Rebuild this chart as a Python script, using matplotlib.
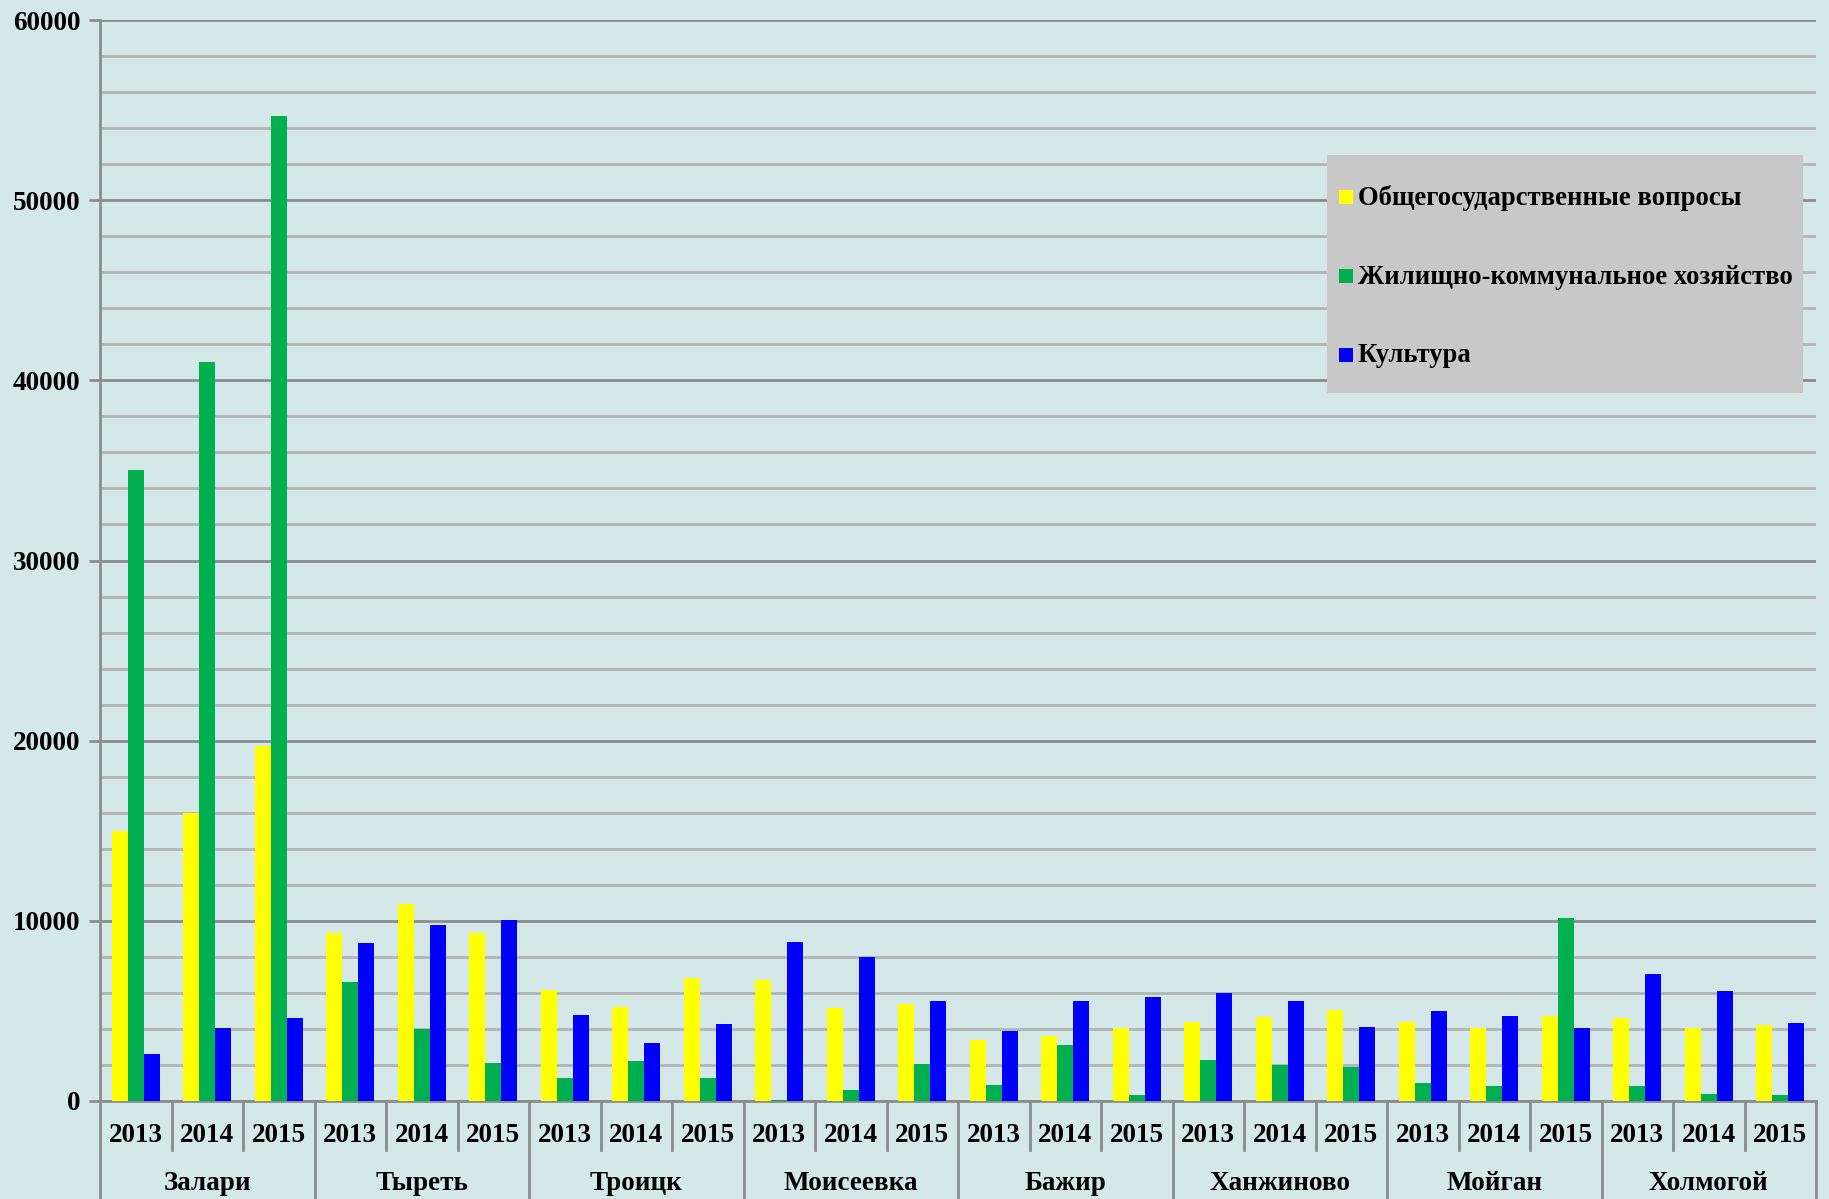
import matplotlib
matplotlib.use("Agg")
import matplotlib.pyplot as plt
import numpy as np
from matplotlib.patches import Rectangle
from matplotlib.lines import Line2D

plt.rcParams['font.family'] = ['Liberation Serif', 'DejaVu Serif']
plt.rcParams['font.weight'] = 'bold'

villages = ["Залари", "Тыреть", "Троицк", "Моисеевка", "Бажир", "Ханжиново", "Мойган", "Холмогой"]
years = ["2013", "2014", "2015"]
series_names = ["Общегосударственные вопросы", "Жилищно-коммунальное хозяйство", "Культура"]

general = [15000, 16000, 19700,
           9330, 10960, 9310,
           6150, 5200, 6850,
           6740, 5150, 5390,
           3370, 3590, 4070,
           4390, 4670, 5070,
           4390, 4070, 4700,
           4630, 4060, 4220]
housing = [35000, 41000, 54650,
           6590, 4000, 2110,
           1260, 2200, 1300,
           50, 630, 2060,
           910, 3130, 310,
           2300, 2000, 1870,
           980, 850, 10150,
           850, 370, 350]
culture = [2600, 4070, 4600,
           8780, 9780, 10020,
           4760, 3240, 4260,
           8810, 7980, 5560,
           3870, 5570, 5800,
           6000, 5540, 4130,
           5020, 4740, 4040,
           7070, 6130, 4310]

colors = ["#FFFF00", "#00B050", "#0000FF"]
bg = "#D5E8E8"
W, H = 1829, 1199

fig = plt.figure(figsize=(W/100, H/100), dpi=100)
fig.patch.set_facecolor(bg)
ax = fig.add_axes([100/W, 1 - 1101/H, (1816-100)/W, (1101-20)/H])
ax.set_facecolor(bg)

n = len(villages) * len(years)
x = np.arange(n)
w = 1/4.5
for k, (vals, c) in enumerate(zip([general, housing, culture], colors)):
    ax.bar(x + (k-1)*w, vals, width=w, color=c, zorder=3, label=series_names[k])

ax.set_xlim(-0.5, n - 0.5)
ax.set_ylim(0, 60000)
ax.set_yticks(np.arange(0, 60001, 10000))
ax.set_yticks(np.arange(0, 60001, 2000), minor=True)
ax.set_yticklabels([str(v) for v in range(0, 60001, 10000)], fontsize=19.5, fontweight='bold')
ax.grid(axis='y', which='minor', color='#B4B4B4', linewidth=2, zorder=1)
ax.grid(axis='y', which='major', color='#8C8C8C', linewidth=2, zorder=1)
ax.tick_params(axis='y', which='major', length=8, width=2, color='#8C8C8C', pad=6)
ax.tick_params(axis='y', which='minor', length=0)

ax.set_xticks(x)
ax.set_xticklabels(years * len(villages), fontsize=19.5, fontweight='bold')
ax.tick_params(axis='x', length=0, pad=16)

for s in ['top', 'right']:
    ax.spines[s].set_visible(False)
for s in ['left', 'bottom']:
    ax.spines[s].set_color('#8C8C8C')
    ax.spines[s].set_linewidth(2)

trans = ax.get_xaxis_transform()
year_bottom = -(1150-1101)/1081
fig_bottom = -(1199-1101)/1081
for i in range(n + 1):
    xs = i - 0.5
    yb = fig_bottom if i % 3 == 0 else year_bottom
    ax.add_line(Line2D([xs, xs], [0, yb], transform=trans, color='#8C8C8C',
                       linewidth=2, clip_on=False))

for j, v in enumerate(villages):
    ax.text(3*j + 1, -(1183-1101)/1081, v, transform=trans, ha='center', va='center',
            fontsize=19.5, fontweight='bold')

# legend panel (figure pixel layout)
def fx(px):
    return px / W

def fy(py):
    return 1 - py / H

fig.patches.append(Rectangle((fx(1327), fy(393)), fx(1803) - fx(1327), fy(155) - fy(393),
                             transform=fig.transFigure, facecolor='#C8C8C8', edgecolor='none',
                             zorder=10))
entry_y = [198, 277, 356]
for name, c, yy in zip(series_names, colors, entry_y):
    fig.patches.append(Rectangle((fx(1339), fy(yy + 6)), fx(14), 14/H,
                                 transform=fig.transFigure, facecolor=c, edgecolor='none',
                                 zorder=11))
    fig.text(fx(1358), fy(yy), name, ha='left', va='center', fontsize=19.2,
             fontweight='bold', zorder=12)

fig.savefig("out.png", dpi=100, facecolor=bg)
